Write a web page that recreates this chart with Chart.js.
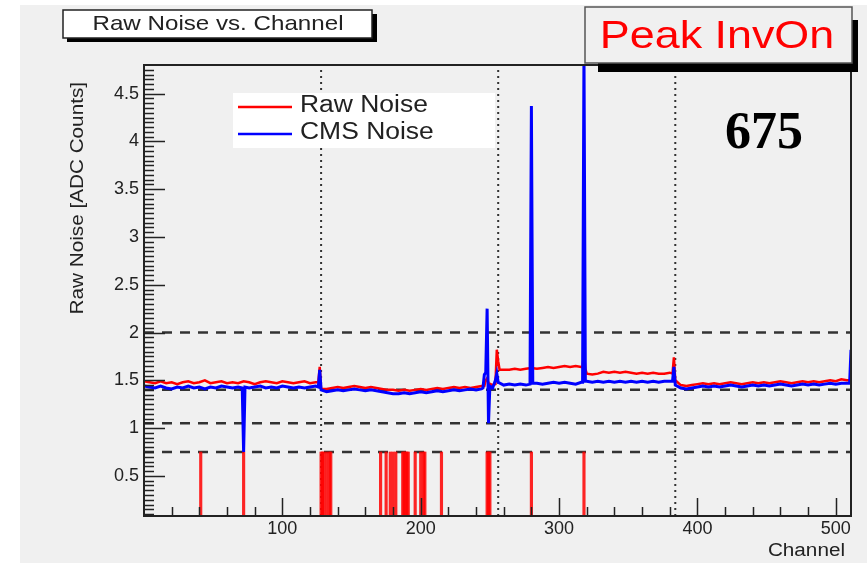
<!DOCTYPE html>
<html>
<head>
<meta charset="utf-8">
<title>Raw Noise vs. Channel</title>
<script src="https://cdn.jsdelivr.net/npm/chart.js@4.4.1/dist/chart.umd.min.js"></script>
<style>
  html, body { margin: 0; padding: 0; background: #ffffff; }
  #wrap { position: relative; width: 867px; height: 567px; }
</style>
</head>
<body>
<div id="wrap"><canvas id="noiseChart" width="867" height="567"></canvas></div>
<script>
// Noise per channel, one sample every 4 channels (0, 4, ..., 508)
const rawNoise = [
    1.49, 1.48, 1.47, 1.49, 1.47, 1.48, 1.46, 1.48, 1.49, 1.47, 1.48, 1.50, 1.47, 1.48, 1.49, 1.47,
    1.48, 1.47, 1.49, 1.48, 1.46, 1.48, 1.49, 1.48, 1.47, 1.49, 1.48, 1.47, 1.48, 1.49, 1.47, 1.48,
    1.42, 1.41, 1.42, 1.43, 1.42, 1.43, 1.44, 1.43, 1.42, 1.43, 1.42, 1.41, 1.40, 1.40, 1.39, 1.40,
    1.39, 1.40, 1.41, 1.40, 1.41, 1.42, 1.41, 1.42, 1.43, 1.42, 1.43, 1.42, 1.43, 1.44, 1.43, 1.45,
    1.62, 1.61, 1.61, 1.62, 1.61, 1.62, 1.63, 1.62, 1.63, 1.64, 1.63, 1.64, 1.65, 1.64, 1.65, 1.64,
    1.57, 1.56, 1.57, 1.59, 1.58, 1.59, 1.58, 1.59, 1.58, 1.57, 1.58, 1.57, 1.58, 1.57, 1.57, 1.58,
    1.46, 1.45, 1.44, 1.45, 1.46, 1.47, 1.46, 1.47, 1.46, 1.47, 1.48, 1.47, 1.46, 1.47, 1.48, 1.47,
    1.48, 1.47, 1.48, 1.49, 1.48, 1.47, 1.48, 1.49, 1.48, 1.49, 1.48, 1.49, 1.50, 1.49, 1.51, 1.50
];
const cmsNoise = [
    1.44, 1.43, 1.42, 1.44, 1.42, 1.41, 1.43, 1.42, 1.44, 1.42, 1.43, 1.41, 1.43, 1.42, 1.44, 1.43,
    1.42, 1.43, 1.41, 1.42, 1.43, 1.44, 1.42, 1.43, 1.42, 1.44, 1.43, 1.42, 1.43, 1.42, 1.43, 1.44,
    1.39, 1.38, 1.39, 1.40, 1.39, 1.40, 1.41, 1.40, 1.39, 1.40, 1.39, 1.38, 1.37, 1.36, 1.36, 1.37,
    1.36, 1.37, 1.38, 1.37, 1.38, 1.39, 1.38, 1.39, 1.40, 1.39, 1.40, 1.41, 1.40, 1.41, 1.40, 1.42,
    1.47, 1.45, 1.46, 1.45, 1.46, 1.45, 1.46, 1.47, 1.46, 1.47, 1.48, 1.47, 1.48, 1.47, 1.46, 1.48,
    1.49, 1.48, 1.49, 1.48, 1.49, 1.48, 1.49, 1.48, 1.49, 1.48, 1.49, 1.48, 1.49, 1.48, 1.49, 1.49,
    1.43, 1.42, 1.41, 1.42, 1.43, 1.44, 1.43, 1.44, 1.43, 1.44, 1.45, 1.44, 1.43, 1.44, 1.45, 1.44,
    1.45, 1.44, 1.45, 1.46, 1.45, 1.44, 1.45, 1.46, 1.45, 1.46, 1.45, 1.46, 1.47, 1.46, 1.47, 1.47
];

// single channels that stand out from the sampled baseline: [channel, noise]
const rawSpikes = [
    [126, 1.48], [127, 1.64], [128, 1.41], [246, 1.44], [247, 1.50], [248, 1.52], [249, 1.47],
    [254, 1.46], [255, 1.82], [256, 1.70], [257, 1.61], [317, 1.64], [318, 1.78], [319, 1.62],
    [382, 1.57], [383, 1.74], [384, 1.50], [511, 1.50]
];
const cmsSpikes = [
    [71, 1.42], [72, 0.75], [73, 1.43], [126, 1.43], [127, 1.61], [128, 1.40],
    [245, 1.42], [246, 1.56], [247, 1.58], [248, 2.25], [249, 1.05], [250, 1.44],
    [254, 1.50], [255, 1.57], [256, 1.48], [279, 1.46], [280, 4.37], [281, 1.47],
    [317, 1.48], [318, 4.95], [319, 1.49], [382, 1.49], [383, 1.64], [384, 1.45],
    [510, 1.47], [511, 1.82]
];

// channels flagged as bad
const flaggedChannels = [
    41, 72, 128, 129, 130, 132, 134, 135, 171, 175, 178, 180, 182, 187, 188, 189, 190, 191,
    196, 200, 202, 203, 215, 248, 249, 250, 280, 318
];
const flagHeight = 0.75;

const cutLevels = [2.0, 1.4, 1.05, 0.75];
const apvEdges = [128, 256, 384];

const xTickLabels = [100, 200, 300, 400, 500];
const yTickLabels = [0.5, 1, 1.5, 2, 2.5, 3, 3.5, 4, 4.5];

const SAMPLE_STEP = 4;
const X_MIN = 0, X_MAX = 511;
const Y_MIN = 0.08, Y_MAX = 4.8;

const SANS = '"Liberation Sans", Arial, sans-serif';
const TEXT_STRETCH = 1.15;

function buildSeries(samples, spikes) {
    const points = new Map();
    samples.forEach((v, i) => points.set(i * SAMPLE_STEP, v));
    spikes.forEach(([ch, v]) => points.set(ch, v));
    return [...points.entries()]
        .sort((a, b) => a[0] - b[0])
        .map(([x, y]) => ({ x, y }));
}

// ROOT style text is a little wider than Liberation Sans
function wideText(ctx, text, x, y, align, rotate) {
    ctx.save();
    ctx.translate(x, y);
    if (rotate) ctx.rotate(rotate);
    ctx.scale(TEXT_STRETCH, 1);
    ctx.textAlign = align;
    ctx.textBaseline = 'alphabetic';
    ctx.fillText(text, 0, 0);
    ctx.restore();
}

const pageBackground = {
    id: 'pageBackground',
    beforeDraw(chart) {
        const { ctx } = chart;
        ctx.save();
        ctx.fillStyle = '#f0f0f0';
        ctx.fillRect(20, 5, 847, 558);
        ctx.restore();
    }
};

// frame plus inward pointing major/minor ticks
const frameAndTicks = {
    id: 'frameAndTicks',
    afterDatasetsDraw(chart) {
        const { ctx, chartArea: a, scales: { x, y } } = chart;
        ctx.save();
        ctx.strokeStyle = '#222';
        ctx.lineWidth = 1.5;
        ctx.beginPath();
        for (let k = 2; k * 0.05 < Y_MAX; k++) {
            const py = Math.round(y.getPixelForValue(k * 0.05)) + 0.5;
            const len = k % 10 === 0 ? 21 : 10;
            ctx.moveTo(a.left, py);
            ctx.lineTo(a.left + len, py);
        }
        for (let c = 20; c < X_MAX; c += 20) {
            const px = Math.round(x.getPixelForValue(c)) + 0.5;
            const len = c % 100 === 0 ? 18 : 9;
            ctx.moveTo(px, a.bottom);
            ctx.lineTo(px, a.bottom - len);
        }
        ctx.stroke();
        ctx.lineWidth = 2;
        ctx.strokeRect(a.left, a.top, a.right - a.left, a.bottom - a.top);
        ctx.restore();
    }
};

const annotations = {
    id: 'annotations',
    afterDraw(chart) {
        const { ctx } = chart;
        ctx.save();

        // title box
        ctx.fillStyle = '#000';
        ctx.fillRect(67, 14, 310, 28);
        ctx.fillStyle = '#fff';
        ctx.fillRect(63, 10, 309, 28);
        ctx.strokeStyle = '#222';
        ctx.lineWidth = 1.5;
        ctx.strokeRect(63, 10, 309, 28);
        ctx.fillStyle = '#222';
        ctx.font = '21px ' + SANS;
        wideText(ctx, 'Raw Noise vs. Channel', 218, 30, 'center');

        // run label box
        ctx.fillStyle = '#000';
        ctx.fillRect(598, 20, 260, 52);
        ctx.fillStyle = '#f0f0f0';
        ctx.fillRect(585, 7, 267, 56);
        ctx.strokeStyle = '#555';
        ctx.strokeRect(585, 7, 267, 56);
        ctx.fillStyle = '#ff0000';
        ctx.font = '39px ' + SANS;
        wideText(ctx, 'Peak InvOn', 717, 48, 'center');

        ctx.fillStyle = '#000';
        ctx.font = 'bold 52px "Liberation Serif", "Times New Roman", serif';
        ctx.textAlign = 'center';
        ctx.textBaseline = 'alphabetic';
        ctx.fillText('675', 764, 148);

        // legend
        ctx.fillStyle = '#fff';
        ctx.fillRect(233, 93, 262, 55);
        const entries = chart.data.datasets
            .filter(d => d.legendRank !== undefined)
            .sort((a, b) => a.legendRank - b.legendRank);
        entries.forEach((d, i) => {
            const ly = 107 + i * 27;
            ctx.strokeStyle = d.borderColor;
            ctx.lineWidth = 2.5;
            ctx.beginPath();
            ctx.moveTo(238, ly);
            ctx.lineTo(292, ly);
            ctx.stroke();
            ctx.fillStyle = '#222';
            ctx.font = '23px ' + SANS;
            wideText(ctx, d.label, 300, ly + 5, 'left');
        });

        // axis titles
        ctx.fillStyle = '#222';
        ctx.font = '18px ' + SANS;
        wideText(ctx, 'Raw Noise [ADC Counts]', 83, 82, 'right', -Math.PI / 2);
        wideText(ctx, 'Channel', 845, 556, 'right');

        ctx.restore();
    }
};

const datasets = [
    {
        label: 'CMS Noise',
        legendRank: 1,
        data: buildSeries(cmsNoise, cmsSpikes),
        borderColor: '#0000ff',
        borderWidth: 3,
        pointRadius: 0,
        order: 0
    },
    {
        label: 'Raw Noise',
        legendRank: 0,
        data: buildSeries(rawNoise, rawSpikes),
        borderColor: '#ff0000',
        borderWidth: 2.5,
        pointRadius: 0,
        order: 1
    },
    {
        type: 'bar',
        label: 'Flagged',
        data: flaggedChannels.map(ch => ({ x: ch, y: flagHeight })),
        backgroundColor: 'rgba(255, 0, 0, 0.85)',
        borderWidth: 0,
        barThickness: 2.5,
        order: 2
    }
];

cutLevels.forEach(level => {
    datasets.push({
        label: 'cut ' + level,
        data: [{ x: X_MIN, y: level }, { x: X_MAX, y: level }],
        borderColor: '#333',
        borderWidth: 2.5,
        borderDash: [10, 8],
        pointRadius: 0,
        order: 3
    });
});

apvEdges.forEach(edge => {
    datasets.push({
        label: 'edge ' + edge,
        data: [{ x: edge, y: Y_MIN }, { x: edge, y: Y_MAX }],
        borderColor: '#333',
        borderWidth: 2,
        borderDash: [2, 4],
        pointRadius: 0,
        order: 3
    });
});

document.addEventListener('DOMContentLoaded', () => {
    const canvas = document.getElementById('noiseChart');
    window.noiseChart = new Chart(canvas, {
        type: 'line',
        data: { datasets },
        plugins: [pageBackground, frameAndTicks, annotations],
        options: {
            responsive: false,
            animation: false,
            events: [],
            layout: { padding: { top: 65, right: 16, bottom: 0, left: 0 } },
            plugins: {
                legend: { display: false },
                tooltip: { enabled: false },
                title: { display: false }
            },
            scales: {
                x: {
                    type: 'linear',
                    min: X_MIN,
                    max: X_MAX,
                    offset: false,
                    grid: { display: false, drawTicks: false, offset: false },
                    border: { display: false },
                    afterBuildTicks: scale => {
                        scale.ticks = xTickLabels.map(v => ({ value: v }));
                    },
                    afterFit: scale => { scale.height = 51; },
                    ticks: {
                        autoSkip: false,
                        maxRotation: 0,
                        padding: 2,
                        color: '#222',
                        font: { family: SANS, size: 18 }
                    }
                },
                y: {
                    type: 'linear',
                    min: Y_MIN,
                    max: Y_MAX,
                    grid: { display: false, drawTicks: false },
                    border: { display: false },
                    afterBuildTicks: scale => {
                        scale.ticks = yTickLabels.map(v => ({ value: v }));
                    },
                    afterFit: scale => { scale.width = 144; },
                    ticks: {
                        padding: 5,
                        color: '#222',
                        font: { family: SANS, size: 18 },
                        callback: v => String(v)
                    }
                }
            }
        }
    });
});
</script>
</body>
</html>
